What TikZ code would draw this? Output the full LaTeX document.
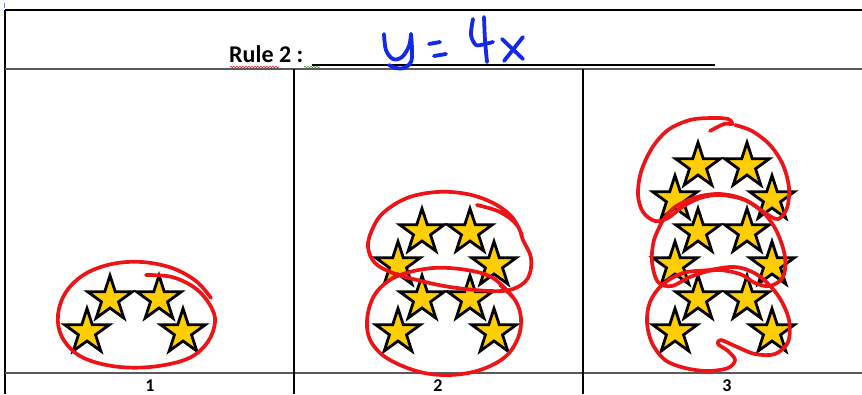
\documentclass[tikz,border=0pt]{standalone}
\usepackage{fontspec}
\newfontfamily\calibri{Carlito}
\usetikzlibrary{shapes.geometric,decorations.pathmorphing}
\definecolor{stargold}{RGB}{255,206,0}
\definecolor{inkred}{RGB}{236,20,22}
\definecolor{inkblue}{RGB}{18,40,235}
\definecolor{gridgray}{RGB}{90,90,90}
\tikzset{
  starnode/.style={shape=star, star points=5, star point ratio=2.618, minimum size=47pt,
    inner sep=0pt, fill=stargold, draw=black, line width=2.8pt},
  loop/.style={draw=inkred, line width=3.7pt, line cap=round, line join=round},
  pen/.style={draw=inkblue, line width=3.8pt, line cap=round, line join=round},
  tline/.style={draw=black, line width=1.3pt},
  gline/.style={draw=gridgray, line width=1.5pt},
  lbl/.style={font=\calibri\bfseries\fontsize{18}{21}\selectfont, inner sep=0pt, anchor=base},
}
\begin{document}
\begin{tikzpicture}[x=1pt,y=-1pt]
\useasboundingbox (0,0) rectangle (862,394);
% table
\coordinate (tl) at (5,10); \coordinate (tr) at (862,10);
\coordinate (ml) at (5,69); \coordinate (mr) at (862,69);
\coordinate (bl) at (5,373); \coordinate (br) at (862,373);
\coordinate (bot) at (5,394);
\coordinate (v1t) at (294,69); \coordinate (v1b) at (294,394);
\coordinate (v2t) at (583,69); \coordinate (v2b) at (583,394);
\draw[tline] (tl) -- (tr);
\draw[tline] (tl) -- (bot);
\draw[gline] (ml) -- (mr);
\draw[gline] (bl) -- (br);
\draw[tline] (v1t) -- (v1b);
\draw[tline] (v2t) -- (v2b);
\coordinate (cur1) at (4,3); \coordinate (cur2) at (4,8);
\draw[draw={rgb,255:red,90;green,140;blue,240}, line width=1pt] (cur1) -- (cur2);
% heading
\node[font=\calibri\bfseries\fontsize{24}{28}\selectfont, inner sep=0pt, anchor=base west] (rule) at (229,62) {Rule 2 :};
\coordinate (u1) at (312,64.5); \coordinate (u2) at (715,64.5);
\draw[draw=black, line width=2pt] (u1) -- (u2);
\coordinate (w1) at (230,67); \coordinate (w2) at (279,67);
\draw[draw=inkred, line width=0.6pt, decorate, decoration={snake, amplitude=0.8pt, segment length=3pt}] (w1) -- (w2);
\coordinate (g1) at (304,67); \coordinate (g2) at (320,67);
\draw[draw={rgb,255:red,60;green,160;blue,60}, line width=0.6pt, decorate, decoration={snake, amplitude=0.8pt, segment length=3pt}] (g1) -- (g2);
% handwritten y = 4x
\draw[pen] plot[smooth, tension=0.6] coordinates {(384,34) (386,50) (393,59) (402,57) (409,46) (411,34)};
\draw[pen] plot[smooth, tension=0.6] coordinates {(411,34) (412,50) (411,62) (404,68) (396,68) (389,65)};
\draw[pen] (429,44) -- (440,42);
\draw[pen] (434,56) -- (446,54);
\draw[pen] plot[smooth, tension=0.5] coordinates {(473,19) (471,35) (476,45) (485,44) (493,42)};
\draw[pen] plot[smooth, tension=0.5] coordinates {(484,17) (485,40) (487,62)};
\draw[pen] (502,39) -- (523,59);
\draw[pen] (523,37) -- (504,61);
% column labels
\node[lbl] (n1) at (150,391) {1};
\node[lbl] (n2) at (438,391) {2};
\node[lbl] (n3) at (727,391) {3};
% stars panel 1
\foreach \i/\x/\y in {a/110/299, b/159/299, c/87/332, d/183/332}
  \node[starnode] (p1\i) at (\x,\y) {};
% stars panel 2
\foreach \i/\x/\y in {a/422/232, b/470/232, c/398/265, d/494/265,
                      e/422/299, f/470/299, g/398/332, h/494/332}
  \node[starnode] (p2\i) at (\x,\y) {};
% stars panel 3
\foreach \i/\x/\y in {a/698/166, b/747/166, c/675/199, d/772/199,
                      e/698/232, f/747/232, g/675/265, h/772/265,
                      i/698/299, j/747/299, k/675/332, l/772/332}
  \node[starnode] (p3\i) at (\x,\y) {};
% red loops
\draw[loop] plot[smooth, tension=0.6] coordinates {(146,275) (172,277) (195,288) (210,305) (215,322) (207,343) (187,359) (150,367) (112,366) (80,356) (62,337) (58,315) (66,292) (85,274) (112,264) (142,262) (172,268) (196,281) (211,298)};
\draw[loop] plot[smooth, tension=0.6] coordinates {(477,205) (500,212) (517,225) (523,240) (531,258) (528,278) (513,289) (490,291) (450,287) (417,280) (393,273) (375,263) (368,247) (372,230) (383,213) (407,198) (437,192) (467,194) (493,203) (512,217) (522,235)};
\draw[loop] plot[smooth, tension=0.6] coordinates {(513,297) (493,278) (467,270) (433,268) (400,275) (380,288) (370,305) (367,327) (373,345) (390,360) (420,372) (450,375) (480,370) (505,357) (518,338) (521,318) (515,300) (500,285)};
\draw[loop] plot[smooth, tension=0.55] coordinates {(710,131) (724,124) (732,124) (728,119) (712,118) (690,120) (668,130) (652,148) (641,172) (638,195) (643,212) (655,221) (668,218) (682,207) (700,198) (720,195) (745,200) (765,213) (778,219) (787,208) (789,188) (783,165) (770,145) (752,131) (735,125)};
\draw[loop] plot[smooth, tension=0.55] coordinates {(663,220) (675,207) (697,197) (720,194) (743,199) (763,212) (777,232) (785,257) (783,277) (770,286) (755,283) (740,274) (715,270) (690,277) (672,286) (658,282) (652,262) (654,240) (663,220)};
\draw[loop] plot[smooth, tension=0.55] coordinates {(710,270) (730,267) (745,269) (762,278) (779,297) (789,320) (788,342) (775,354) (755,354) (735,346) (721,340) (718,344) (728,351) (735,360) (728,368) (708,371) (685,368) (665,360) (652,343) (647,322) (650,302) (662,285) (683,273) (710,270) (728,268)};
\end{tikzpicture}
\end{document}
